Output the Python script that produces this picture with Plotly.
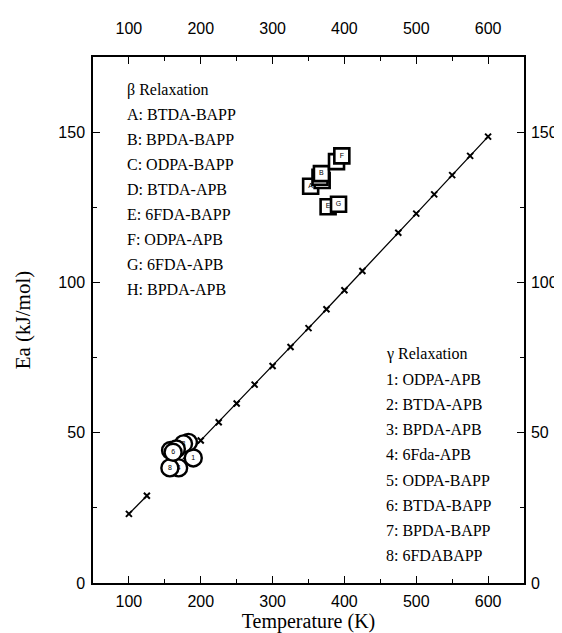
import plotly.graph_objects as go

# ---- data ----
T_line = [100, 125, 150, 175, 200, 225, 250, 275, 300, 325, 350, 375, 400,
          425, 450, 475, 500, 525, 550, 575, 600]
Ea_line = [23.0, 29.0, None, 41.2, 47.4, 53.5, 59.7, 66.0, 72.2, 78.5, 84.8, 91.1,
           97.4, 103.8, 110.1, 116.5, 122.9, 129.3, 135.7, 142.1, 148.5]
T_marked = [100, 125, 200, 225, 250, 275, 300, 325, 350, 375, 400, 425,
            475, 500, 525, 550, 575, 600]
Ea_marked = [23.0, 29.0, 47.4, 53.5, 59.7, 66.0, 72.2, 78.5, 84.8, 91.1, 97.4,
             103.8, 116.5, 122.9, 129.3, 135.7, 142.1, 148.5]

beta_ids = ["A", "D", "C", "B", "E", "G", "H", "F"]
beta_T = [353, 369, 366, 368, 377.3, 391.8, 389, 396.4]
beta_Ea = [132.0, 133.9, 135.0, 136.2, 125.2, 126.0, 140.2, 142.1]
beta_hidden_labels = ["C", "D"]   # fully covered by square B in the reference

gamma_ids = ["1", "2", "3", "4", "7", "5", "8", "6"]
gamma_T = [189.6, 182.8, 176, 169.2, 158, 166, 157, 161.5]
gamma_Ea = [41.6, 46.8, 46.3, 38.3, 44.1, 44.6, 38.3, 43.5]

beta_legend = ["β Relaxation", "A: BTDA-BAPP", "B: BPDA-BAPP", "C: ODPA-BAPP",
               "D: BTDA-APB", "E: 6FDA-BAPP", "F: ODPA-APB", "G: 6FDA-APB",
               "H: BPDA-APB"]
gamma_legend = ["γ Relaxation", "1: ODPA-APB", "2: BTDA-APB", "3: BPDA-APB",
                "4: 6Fda-APB", "5: ODPA-BAPP", "6: BTDA-BAPP", "7: BPDA-BAPP",
                "8: 6FDABAPP"]

x_ticks = [100, 200, 300, 400, 500, 600]
y_ticks = [0, 50, 100, 150]

SERIF = "Liberation Serif, Times New Roman, serif"
SANS = "Liberation Sans, Arial, sans-serif"

fig = go.Figure()

fig.add_trace(go.Scatter(x=T_line, y=Ea_line, mode="lines",
                         line=dict(color="black", width=1.3),
                         connectgaps=False, hoverinfo="skip"))
fig.add_trace(go.Scatter(x=T_marked, y=Ea_marked, mode="markers",
                         marker=dict(symbol="x-thin", size=6, color="black",
                                     line=dict(color="black", width=2)),
                         hoverinfo="skip"))

for lab, t, e in zip(gamma_ids, gamma_T, gamma_Ea):
    fig.add_trace(go.Scatter(x=[t], y=[e], mode="markers+text", text=[lab],
                             textposition="middle center",
                             textfont=dict(family=SANS, size=7, color="black"),
                             marker=dict(symbol="circle", size=17, color="white",
                                         line=dict(color="black", width=2.4))))

for lab, t, e in zip(beta_ids, beta_T, beta_Ea):
    shown = "" if lab in beta_hidden_labels else lab
    fig.add_trace(go.Scatter(x=[t], y=[e], mode="markers+text", text=[shown],
                             textposition="middle center",
                             textfont=dict(family=SANS, size=7, color="black"),
                             marker=dict(symbol="square", size=15, color="white",
                                         line=dict(color="black", width=2.6))))

# dummy trace for top / right axes
fig.add_trace(go.Scatter(x=[100], y=[0], xaxis="x2", yaxis="y2", mode="markers",
                         marker=dict(opacity=0), hoverinfo="skip"))

# legends as text annotations (pixel rows converted to axis units)
def y_at(px):
    return (575 - px) / 3.047

annos = []
for i, s in enumerate(beta_legend):
    annos.append(dict(x=95, y=y_at(75 + 25.3 * i), xref="x", yref="y",
                      text=s, showarrow=False, xanchor="left", yanchor="middle",
                      font=dict(family=SERIF, size=16, color="black")))
for i, s in enumerate(gamma_legend):
    annos.append(dict(x=455, y=y_at(342.7 + 25.6 * i), xref="x", yref="y",
                      text=s, showarrow=False, xanchor="left", yanchor="middle",
                      font=dict(family=SERIF, size=16, color="black")))

axis_common = dict(showgrid=False, zeroline=False, showline=True, linecolor="black",
                   linewidth=1.5, ticks="inside", ticklen=7, tickwidth=1.3,
                   tickcolor="black", tickfont=dict(family=SANS, size=16, color="black"))

fig.update_layout(
    width=562, height=633,
    margin=dict(l=85, r=41, t=44, b=58),
    paper_bgcolor="white", plot_bgcolor="white",
    showlegend=False,
    annotations=annos,
    xaxis=dict(range=[50, 650], tickvals=x_ticks, **axis_common, ticklabelstandoff=3,
               minor=dict(ticks="inside", ticklen=4, tickwidth=1.1, tickcolor="black", dtick=50, tick0=50),
               title=dict(text="Temperature (K)", font=dict(family=SERIF, size=20, color="black"), standoff=2)),
    yaxis=dict(range=[0, 175], tickvals=y_ticks, **axis_common, ticklabelstandoff=3,
               minor=dict(ticks="inside", ticklen=4, tickwidth=1.1, tickcolor="black", dtick=25, tick0=0),
               title=dict(text="Ea (kJ/mol)", font=dict(family=SERIF, size=21, color="black"), standoff=22)),
    xaxis2=dict(range=[50, 650], tickvals=x_ticks, overlaying="x", side="top", anchor="y2",
                **axis_common, ticklabelstandoff=15,
                minor=dict(ticks="inside", ticklen=4, tickwidth=1.1, tickcolor="black", dtick=50, tick0=50)),
    yaxis2=dict(range=[0, 175], tickvals=y_ticks, overlaying="y", side="right", anchor="x2",
                **axis_common, ticklabelstandoff=2,
                minor=dict(ticks="inside", ticklen=4, tickwidth=1.1, tickcolor="black", dtick=25, tick0=0)),
)

fig.write_html("out.html")
